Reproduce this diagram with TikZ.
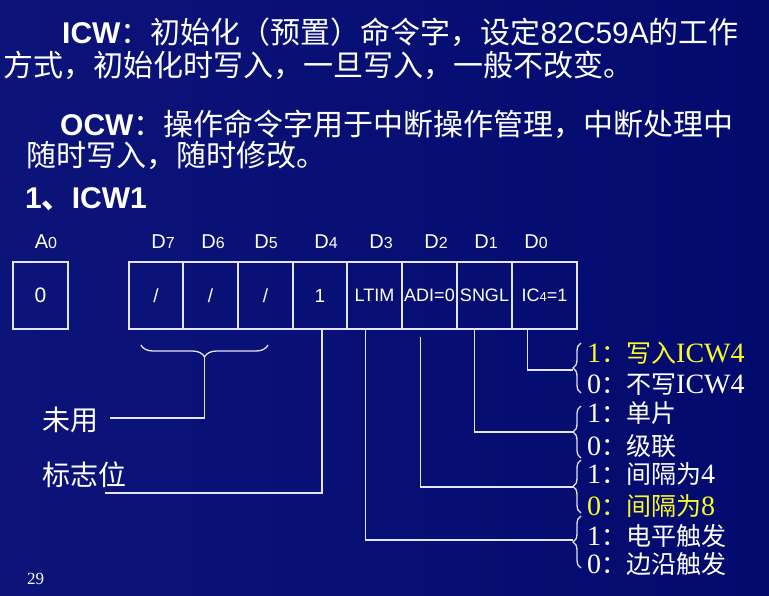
\documentclass[tikz,border=0pt]{standalone}
\usepackage{fontspec}
\setmainfont{Liberation Sans}
\newfontfamily\cjk{Noto Sans CJK SC}
\newfontfamily\tms{Liberation Serif}
\usetikzlibrary{decorations.pathreplacing}
\definecolor{bgl}{RGB}{12,20,122}
\definecolor{bgr}{RGB}{2,10,110}
\definecolor{linec}{RGB}{228,228,242}
\definecolor{hl}{RGB}{250,250,40}
\newcommand\sz[1]{\fontsize{#1}{#1}\selectfont}
\newcommand\rc[1]{{\cjk\sz{25}#1}}
\newcommand\sm[1]{{\sz{16}#1}}

\begin{document}
\begin{tikzpicture}[x=1pt,y=-1pt,
  ln/.style={draw=linec, line width=1.3pt},
  cell/.style={draw=linec, line width=1.3pt, rectangle, minimum height=67pt,
    inner sep=0pt, text=white, font=\sz{18}},
  txt/.style={anchor=base west, inner sep=0pt, text=white},
  lbl/.style={anchor=base, inner sep=0pt, text=white, font=\sz{20}},
  opt/.style={txt, font=\tms\sz{28}},
  rbrace/.style={ln, decorate, decoration={brace, amplitude=8pt}},
  dbrace/.style={ln, decorate, decoration={brace, amplitude=12pt}}]

% background
\shade[left color=bgl, right color=bgr] (0,0) rectangle (769,595);
\useasboundingbox (0,0) rectangle (769,595);

% heading text
\node[txt, font=\sz{30}] (h1) at (62,43)
  {{\bfseries ICW}{\cjk ：初始化（预置）命令字，设定}82C59A{\cjk 的工作}};
\node[txt, font=\sz{30}] (h2) at (3,76) {\cjk 方式，初始化时写入，一旦写入，一般不改变。};
\node[txt, font=\sz{30}] (h3) at (60,135) {{\bfseries OCW}{\cjk ：操作命令字用于中断操作管理，中断处理中}};
\node[txt, font=\sz{30}] (h4) at (26,166) {\cjk 随时写入，随时修改。};
\node[txt, font=\sz{30}] (h5) at (25,208) {\bfseries 1{\cjk 、}ICW1};

% bit labels
\node[lbl] (la) at (46,248) {A\sm{0}};
\node[lbl] (l7) at (163,248) {D\sm{7}};
\node[lbl] (l6) at (213,248) {D\sm{6}};
\node[lbl] (l5) at (266,248) {D\sm{5}};
\node[lbl] (l4) at (326,248) {D\sm{4}};
\node[lbl] (l3) at (381,248) {D\sm{3}};
\node[lbl] (l2) at (436,248) {D\sm{2}};
\node[lbl] (l1) at (486,248) {D\sm{1}};
\node[lbl] (l0) at (536,248) {D\sm{0}};

% register cells
\node[cell, minimum width=55pt, font=\sz{21}] (ca) at (40.5,295.5) {0};
\node[cell, minimum width=54pt, font=\sz{19}] (c7) at (156,295.5) {/};
\node[cell, minimum width=55pt, font=\sz{19}] (c6) at (210.5,295.5) {/};
\node[cell, minimum width=55pt, font=\sz{19}] (c5) at (265.5,295.5) {/};
\node[cell, minimum width=54pt, font=\sz{19}] (c4) at (320,295.5) {1};
\node[cell, minimum width=55pt] (c3) at (374.5,295.5) {LTIM};
\node[cell, minimum width=55pt] (c2) at (429.5,295.5) {ADI=0};
\node[cell, minimum width=55pt] (c1) at (484.5,295.5) {SNGL};
\node[cell, minimum width=65pt] (c0) at (544.5,295.5) {IC{\sz{13}4}=1};

% unused bits D7..D5
\draw[dbrace] (268,345) -- (141,345);
\coordinate (u) at (204.5,357);
\coordinate (ue) at (110,418);
\draw[ln] (u) |- (ue);
\node[txt, font=\cjk\sz{28}] (wy) at (42,430) {未用};

% flag bit D4
\coordinate (fe) at (105,493);
\draw[ln] ([xshift=2pt]c4.south) |- (fe);
\node[txt, font=\cjk\sz{28}] (bz) at (42,485) {标志位};

% option braces
\draw[rbrace] (581,393) -- (581,343);
\draw[rbrace] (581,458) -- (581,406);
\draw[rbrace] (581,513) -- (581,460);
\draw[rbrace] (581,568) -- (581,516);
\coordinate (t1) at (573,370);
\coordinate (t2) at (573,432);
\coordinate (t3) at (573,487);
\coordinate (t4) at (573,540);

% connectors from bits to options
\draw[ln] ([xshift=16pt]c0.south west) |- (t1);
\draw[ln] ([xshift=18pt]c1.south west) |- (t2);
\draw[ln] ([xshift=19pt,yshift=-7pt]c2.south west) |- (t3);
\draw[ln] ([xshift=19pt]c3.south west) |- (t4);

% option texts
\node[opt, text=hl] (o1) at (587,362) {1\rc{：写入}ICW4};
\node[opt] (o2) at (587,393) {0\rc{：不写}ICW4};
\node[opt] (o3) at (587,422) {1\rc{：单片}};
\node[opt] (o4) at (587,455) {0\rc{：级联}};
\node[opt] (o5) at (587,483) {1\rc{：间隔为}4};
\node[opt, text=hl] (o6) at (587,515) {0\rc{：间隔为}8};
\node[opt] (o7) at (587,545) {1\rc{：电平触发}};
\node[opt] (o8) at (587,573) {0\rc{：边沿触发}};

% page number
\node[txt, font=\tms\sz{17}] (pg) at (27,584) {29};
\end{tikzpicture}
\end{document}
